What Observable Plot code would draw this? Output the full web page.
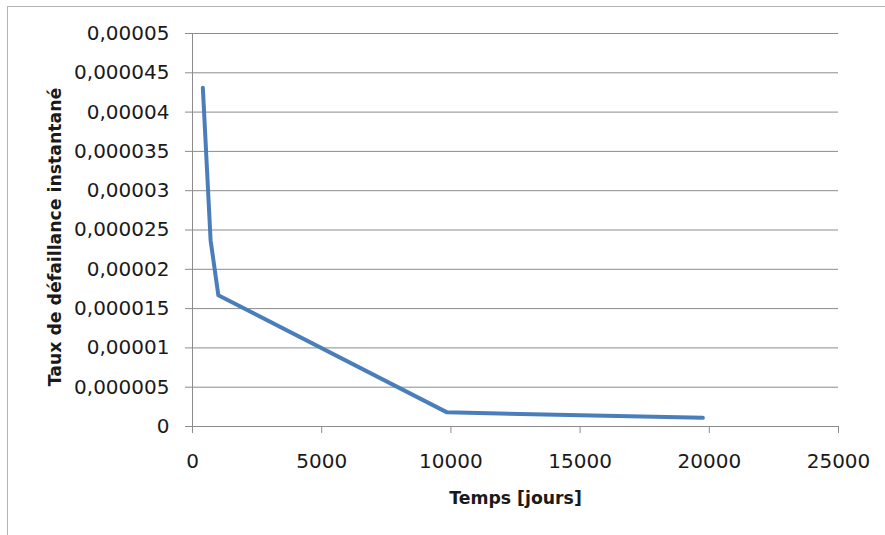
<!DOCTYPE html>
<html>
<head>
<meta charset="utf-8">
<script src="https://cdn.jsdelivr.net/npm/d3@7"></script>
<script src="https://cdn.jsdelivr.net/npm/@observablehq/plot@0.6"></script>
<style>
  body { margin: 0; background: #fff; }
  #wrap { position: relative; width: 885px; height: 535px; }
  #frame { position: absolute; left: 7px; top: 6px; right: 0; bottom: 0;
           border-top: 1.5px solid #b4b4b4; border-left: 1.5px solid #b4b4b4; pointer-events: none; }
</style>
</head>
<body>
<div id="wrap"><div id="frame"></div></div>
<script>
const days = [400, 700, 1000, 9850, 19750];
const rates = [0.0000431, 0.0000237, 0.0000167, 0.0000018, 0.0000011];
const xTicks = [0, 5000, 10000, 15000, 20000, 25000];
const yTicks = [0, 0.000005, 0.00001, 0.000015, 0.00002, 0.000025, 0.00003, 0.000035, 0.00004, 0.000045, 0.00005];
const yTickLabels = ["0", "0,000005", "0,00001", "0,000015", "0,00002", "0,000025", "0,00003", "0,000035", "0,00004", "0,000045", "0,00005"];

const data = days.map((d, i) => ({x: d, y: rates[i]}));

const chart = Plot.plot({
  width: 885,
  height: 535,
  marginLeft: 192,
  marginRight: 47,
  marginTop: 33,
  marginBottom: 109,
  style: {fontSize: "20px", fontFamily: "'DejaVu Sans', sans-serif", color: "#1a1a1a", background: "transparent"},
  x: {domain: [0, 25000]},
  y: {domain: [0, 0.00005]},
  marks: [
    Plot.gridY(yTicks, {stroke: "#8c8c8c", strokeOpacity: 1, strokeWidth: 1}),
    Plot.axisY(yTicks, {
      tickSize: 7, tickPadding: 16, stroke: "#8c8c8c",
      tickFormat: (d) => yTickLabels[yTicks.indexOf(d)],
      label: null
    }),
    Plot.axisX(xTicks, {
      tickSize: 7, tickPadding: 20, stroke: "#8c8c8c",
      tickFormat: (d) => String(d),
      label: null
    }),
    Plot.ruleX([0], {stroke: "#8c8c8c"}),
    Plot.line(data, {x: "x", y: "y", stroke: "#4a7ebb", strokeWidth: 4, strokeLinejoin: "round", strokeLinecap: "round"}),
    Plot.text(["Taux de défaillance instantané"], {
      frameAnchor: "left", dx: -137, dy: 7, rotate: -90, text: (d) => d,
      fontWeight: "bold", fontSize: 17.3, fill: "#1a1a1a", textAnchor: "middle", lineAnchor: "middle"
    }),
    Plot.text(["Temps [jours]"], {
      frameAnchor: "bottom", dy: 72, text: (d) => d,
      fontWeight: "bold", fontSize: 17.3, fill: "#1a1a1a", textAnchor: "middle", lineAnchor: "middle"
    })
  ]
});
chart.style.position = "absolute";
chart.style.left = "0";
chart.style.top = "0";
document.getElementById("wrap").appendChild(chart);
</script>
</body>
</html>
